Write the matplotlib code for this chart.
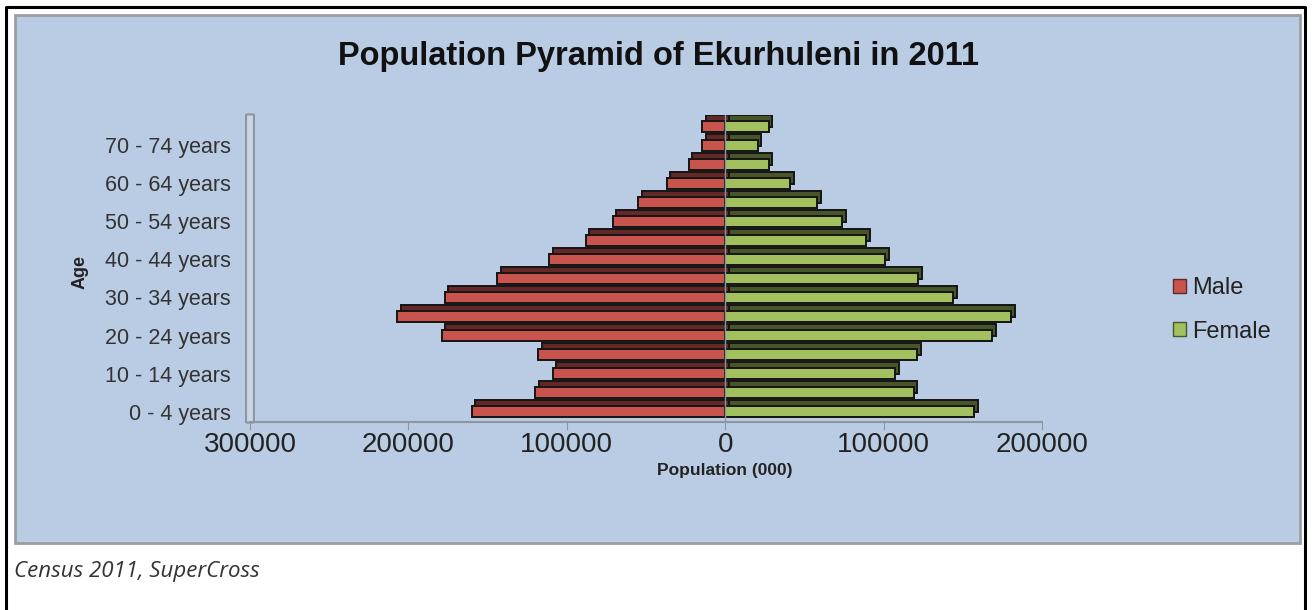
import matplotlib.pyplot as plt
import numpy as np
from matplotlib.patches import Rectangle, FancyBboxPatch, Patch
from matplotlib.lines import Line2D

ages = ["0 - 4 years", "5 - 9 years", "10 - 14 years", "15 - 19 years",
        "20 - 24 years", "25 - 29 years", "30 - 34 years", "35 - 39 years",
        "40 - 44 years", "45 - 49 years", "50 - 54 years", "55 - 59 years",
        "60 - 64 years", "65 - 69 years", "70 - 74 years", "75+ years"]
male = [160000, 120000, 109000, 118000, 179000, 207000, 177000, 144000,
        111000, 88000, 71000, 55000, 37000, 23000, 14500, 14500]
female = [157000, 119000, 107500, 121000, 168500, 180500, 144000, 122000,
          101000, 89000, 74000, 58000, 41000, 27500, 20500, 27500]
xticks = [-300000, -200000, -100000, 0, 100000, 200000]

plt.rcParams['font.family'] = ['Liberation Sans', 'DejaVu Sans']

fig = plt.figure(figsize=(13.12, 6.10), dpi=100)
W, H = 1312, 610

# outer page frame (open at the bottom) and the blue chart area
fig.add_artist(Line2D([6/W, 6/W, 1305/W, 1305/W], [0, 1-7/H, 1-7/H, 0],
                      transform=fig.transFigure, color='black', lw=2.2))
fig.add_artist(Rectangle((15/W, 1-543/H), 1285/W, 528/H, transform=fig.transFigure,
                         facecolor='#b9cce4', edgecolor='#9a9ea4', lw=2, zorder=0))

ax = fig.add_axes([250/W, 1-422/H, 792/W, 307/H])
ax.patch.set_alpha(0)

y = np.arange(len(ages))
h = 0.62
dx, dy = 2300, 0.29
neg_male = -np.array(male)

# dark top/side faces sit behind the front faces
ax.barh(y + dy, neg_male, left=dx, height=h, color='#642826', edgecolor='#151515', lw=1.4, zorder=2)
ax.barh(y + dy, female, left=dx, height=h, color='#47552a', edgecolor='#151515', lw=1.4, zorder=2)
ax.barh(y, neg_male, height=h, color='#c9544d', edgecolor='#151515', lw=1.4, zorder=3)
ax.barh(y, female, height=h, color='#a2c05e', edgecolor='#151515', lw=1.4, zorder=3)
ax.axvline(0, color='#8e96a0', lw=1, zorder=4)

ax.set_xlim(-300000, 200000)
ax.set_ylim(-0.55, 15.6)
ax.set_xticks(xticks)
ax.set_xticklabels([str(abs(v)) for v in xticks], fontsize=20, color='#222222')
ax.set_yticks(y[::2])
ax.set_yticklabels(ages[::2], fontsize=15.5, color='#333333')
ax.tick_params(axis='y', length=0, pad=14)
ax.tick_params(axis='x', length=6, color='#8e96a0', pad=1)
for s in ['top', 'right', 'left']:
    ax.spines[s].set_visible(False)
ax.spines['bottom'].set_color('#8e96a0')
ax.spines['bottom'].set_linewidth(1.5)

# thin side wall of the 3-D frame
ax.add_patch(FancyBboxPatch((-0.003, 0.0), 0.006, 1.0, boxstyle='round,pad=0.002',
                            transform=ax.transAxes, facecolor='#c8d6e8',
                            edgecolor='#8e96a0', lw=1.5, clip_on=False, zorder=1))

ax.set_xlabel('Population (000)', fontsize=12.5, fontweight='bold', color='#222222')
ax.xaxis.set_label_coords(0.6, -0.135)
fig.text(80/W, 1-272/H, 'Age', rotation=90, fontsize=13, fontweight='bold',
         color='#222222', ha='center', va='center')
fig.text(659/W, 1-57/H, 'Population Pyramid of Ekurhuleni in 2011', fontsize=23.5,
         fontweight='bold', color='#111111', ha='center', va='center')

handles = [Patch(facecolor='#c9544d', edgecolor='#642826', label='Male'),
           Patch(facecolor='#a2c05e', edgecolor='#47552a', label='Female')]
fig.legend(handles=handles, loc='center left', bbox_to_anchor=(1152/W, 1-310/H),
           frameon=False, fontsize=17, handlelength=0.55, handleheight=0.55,
           handletextpad=0.25, labelspacing=0.9, labelcolor='#222222')

fig.text(14/W, 1-572/H, 'Census 2011, SuperCross', fontsize=16, style='italic',
         family='Open Sans', color='#333333', ha='left', va='center')

fig.savefig('out.png', dpi=100)
